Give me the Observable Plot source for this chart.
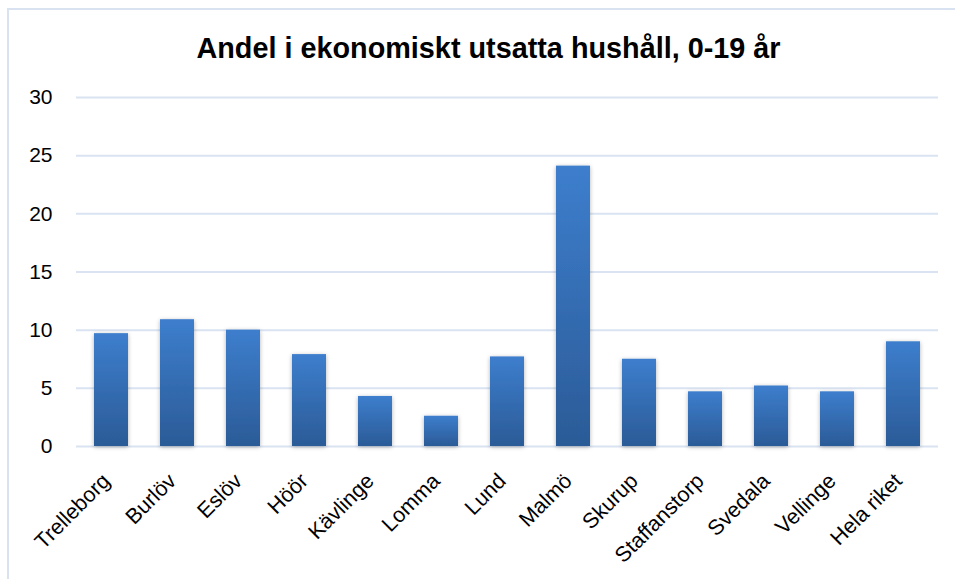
<!DOCTYPE html>
<html><head><meta charset="utf-8">
<script src="https://cdn.jsdelivr.net/npm/d3@7"></script>
<script src="https://cdn.jsdelivr.net/npm/@observablehq/plot@0.6"></script>
<style>
body{margin:0;background:#fff;overflow:hidden}
#wrap{position:relative;width:955px;height:579px;overflow:hidden;background:#fff}
#frame{position:absolute;left:7px;top:8px;width:1000px;height:700px;border:2px solid #d9e2f0;box-sizing:border-box}
#title{position:absolute;left:0;width:977px;top:32px;height:28px;line-height:28px;text-align:center;font:bold 28.8px "Liberation Sans",Arial,sans-serif;color:#000;white-space:nowrap}
#chart{position:absolute;left:0;top:75px}
</style></head>
<body>
<div id="wrap"><div id="frame"></div><div id="title">Andel i ekonomiskt utsatta hushåll, 0-19 år</div><div id="chart"></div></div>
<script>
const categories = ["Trelleborg","Burlöv","Eslöv","Höör","Kävlinge","Lomma","Lund","Malmö","Skurup","Staffanstorp","Svedala","Vellinge","Hela riket"];
const values = [9.7,10.9,10.0,7.9,4.3,2.6,7.7,24.1,7.5,4.7,5.2,4.7,9.0];
const yTicks = [0,5,10,15,20,25,30];
const data = categories.map((c,i)=>({category:c, value:values[i]}));

const chart = Plot.plot({
  width:955, height:504,
  marginLeft:76, marginRight:17, marginTop:22, marginBottom:133,
  style:{fontFamily:"'Liberation Sans', Arial, sans-serif", fontSize:"21px", color:"#000", background:"transparent", overflow:"visible"},
  x:{domain:categories, paddingInner:0.49, paddingOuter:0.245, axis:null},
  y:{domain:[0,30], axis:null},
  marks:[
    Plot.ruleY(yTicks, {stroke:"#d9e3f2", strokeWidth:2}),
    Plot.barY(data, {x:"category", y:"value", fill:"url(#barGrad)"}),
    Plot.axisY({ticks:yTicks, tickSize:0, tickPadding:24, fontSize:21, label:null}),
    Plot.text(data, {x:"category", frameAnchor:"bottom", text:"category", rotate:-45, textAnchor:"end", lineAnchor:"top", dx:-11, dy:25, fontSize:21.5, fill:"#000"})
  ]
});
const svg = d3.select(chart);
const defs = svg.insert("defs", ":first-child");
const g = defs.append("linearGradient").attr("id","barGrad").attr("x1",0).attr("y1",0).attr("x2",0).attr("y2",1);
g.append("stop").attr("offset","0%").attr("stop-color","#3d7ecd");
g.append("stop").attr("offset","100%").attr("stop-color","#2b5b97");
const f = defs.append("filter").attr("id","shadow").attr("x","-30%").attr("y","-10%").attr("width","160%").attr("height","125%");
f.append("feDropShadow").attr("dx",0).attr("dy",1).attr("stdDeviation",2.2).attr("flood-color","#000").attr("flood-opacity",0.3);
svg.selectAll("g[aria-label=bar] rect").attr("filter","url(#shadow)");
document.getElementById("chart").appendChild(chart);
</script>
</body></html>
